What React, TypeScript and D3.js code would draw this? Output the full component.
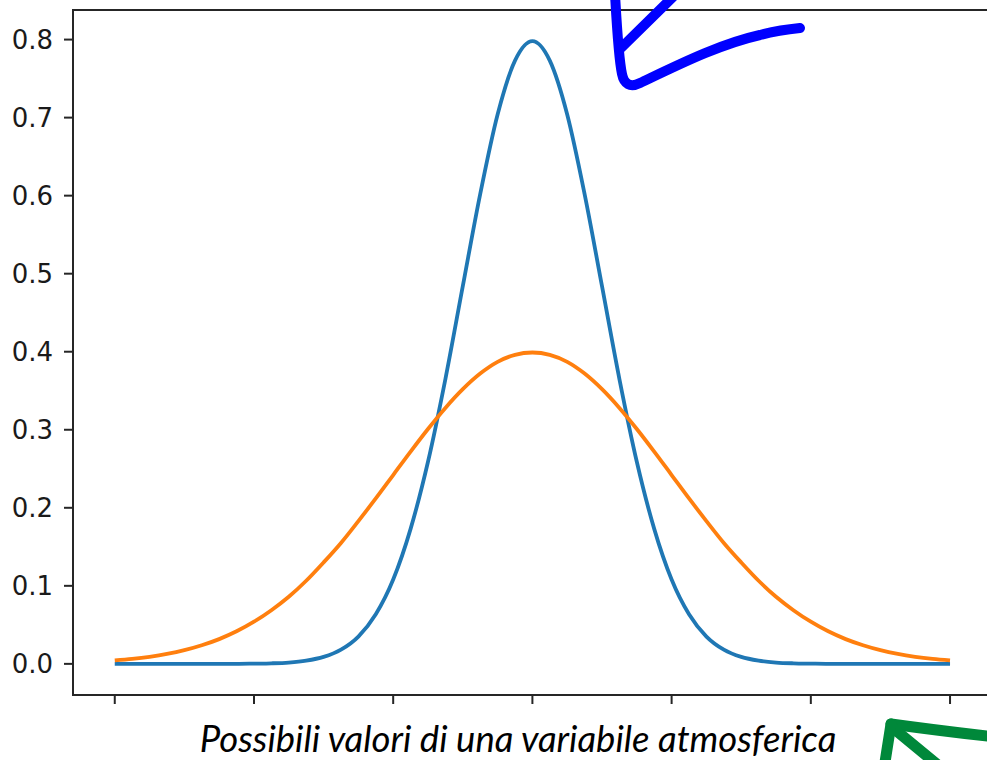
import React from "react";
import * as d3 from "d3";

// Sample positions along the x axis (standardised units)
const xValues = [
  -3, -2.875, -2.75, -2.625, -2.5, -2.375, -2.25, -2.125, -2, -1.875, -1.75,
  -1.625, -1.5, -1.375, -1.25, -1.125, -1, -0.875, -0.75, -0.625, -0.5, -0.375,
  -0.25, -0.125, 0, 0.125, 0.25, 0.375, 0.5, 0.625, 0.75, 0.875, 1, 1.125, 1.25,
  1.375, 1.5, 1.625, 1.75, 1.875, 2, 2.125, 2.25, 2.375, 2.5, 2.625, 2.75,
  2.875, 3,
];

// Narrow distribution (blue)
const narrowValues = [
  0, 0, 0, 0, 0, 0, 0, 0, 0.0003, 0.0007, 0.0017, 0.0041, 0.0089, 0.0182,
  0.035, 0.0635, 0.108, 0.173, 0.259, 0.365, 0.484, 0.602, 0.704, 0.773, 0.798,
  0.773, 0.704, 0.602, 0.484, 0.365, 0.259, 0.173, 0.108, 0.0635, 0.035, 0.0182,
  0.0089, 0.0041, 0.0017, 0.0007, 0.0003, 0, 0, 0, 0, 0, 0, 0, 0,
];

// Wide distribution (orange)
const wideValues = [
  0.0044, 0.0064, 0.0091, 0.0127, 0.0175, 0.0238, 0.0317, 0.0417, 0.054,
  0.0688, 0.086, 0.1065, 0.13, 0.155, 0.183, 0.212, 0.242, 0.272, 0.301, 0.328,
  0.352, 0.372, 0.387, 0.396, 0.399, 0.396, 0.387, 0.372, 0.352, 0.328, 0.301,
  0.272, 0.242, 0.212, 0.183, 0.155, 0.13, 0.1065, 0.086, 0.0688, 0.054, 0.0417,
  0.0317, 0.0238, 0.0175, 0.0127, 0.0091, 0.0064, 0.0044,
];

const xTicks = [-3, -2, -1, 0, 1, 2, 3];
const yTicks = [0, 0.1, 0.2, 0.3, 0.4, 0.5, 0.6, 0.7, 0.8];
const xLabel = "Possibili valori di una variabile atmosferica";

const W = 987;
const H = 760;

export default function App() {
  const plot = { left: 73, right: 991.8, top: 10, bottom: 695 };

  const x = d3.scaleLinear().domain([-3.3, 3.3]).range([plot.left, plot.right]);
  const y = d3.scaleLinear().domain([-0.0399, 0.8379]).range([plot.bottom, plot.top]);

  const line = d3
    .line<number>()
    .x((_, i) => x(xValues[i]))
    .y((v) => y(v))
    .curve(d3.curveMonotoneX);

  const axisColor = "#262626";
  const tickFont = "'DejaVu Sans', sans-serif";

  return (
    <div style={{ position: "fixed", left: 0, top: 0 }}>
      <svg width={W} height={H} style={{ display: "block", background: "#fff" }}>
        {/* curves */}
        <path d={line(narrowValues) || ""} fill="none" stroke="#1f77b4" strokeWidth={3.8} strokeLinejoin="round" />
        <path d={line(wideValues) || ""} fill="none" stroke="#ff7f0e" strokeWidth={3.8} strokeLinejoin="round" />

        {/* spines */}
        <line x1={plot.left} x2={plot.left} y1={plot.top} y2={plot.bottom} stroke={axisColor} strokeWidth={2} />
        <line x1={plot.left - 1} x2={W} y1={plot.bottom} y2={plot.bottom} stroke={axisColor} strokeWidth={2} />
        <line x1={plot.left - 1} x2={W} y1={plot.top} y2={plot.top} stroke={axisColor} strokeWidth={2} />

        {/* y axis ticks */}
        {yTicks.map((t) => (
          <g key={t} transform={`translate(0,${y(t)})`}>
            <line x1={plot.left - 9} x2={plot.left} stroke={axisColor} strokeWidth={2} />
            <text
              x={plot.left - 20}
              dy="0.36em"
              textAnchor="end"
              fontFamily={tickFont}
              fontSize={26}
              fill="#1a1a1a"
            >
              {t.toFixed(1)}
            </text>
          </g>
        ))}

        {/* x axis ticks (unlabelled) */}
        {xTicks.map((t) => (
          <line
            key={t}
            x1={x(t)}
            x2={x(t)}
            y1={plot.bottom}
            y2={plot.bottom + 9}
            stroke={axisColor}
            strokeWidth={2}
          />
        ))}

        {/* axis title */}
        <text
          x={518}
          y={752}
          textAnchor="middle"
          fontFamily="Lato, 'Open Sans', sans-serif"
          fontStyle="italic"
          fontSize={36.5}
          fill="#000"
        >
          {xLabel}
        </text>

        {/* hand-drawn blue annotation arrow */}
        <g fill="none" stroke="#0000ff" strokeWidth={10} strokeLinecap="round" strokeLinejoin="round">
          <path d="M615,-6 C617,30 619,60 622,74 C624,84 630,88 640,83 C680,64 720,44 760,35 C775,31 790,29 800,28" />
          <path d="M621,48 L680,-10" />
        </g>

        {/* hand-drawn green annotation arrow */}
        <g fill="none" stroke="#00883a" strokeWidth={11} strokeLinecap="round" strokeLinejoin="round">
          <path d="M891,724 C920,728 960,733 995,737" />
          <path d="M893,728 L950,775" />
          <path d="M891,724 L883,775" />
        </g>
      </svg>
    </div>
  );
}
